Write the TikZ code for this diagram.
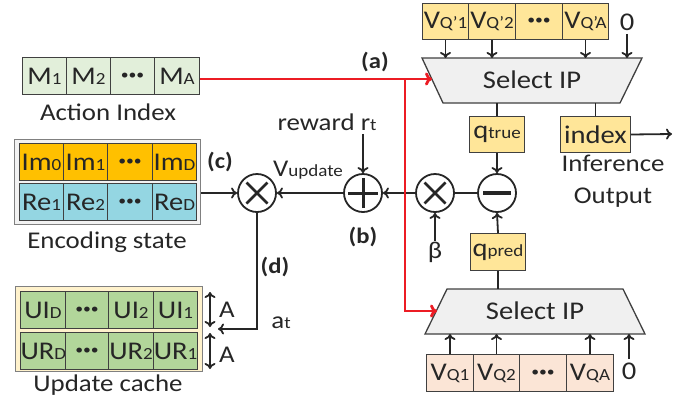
\documentclass[tikz,border=0pt]{standalone}
\usepackage{fontspec}
\setmainfont{Carlito}[FakeStretch=1.12]
\usetikzlibrary{arrows.meta}
\definecolor{txt}{HTML}{262626}
\definecolor{bd}{HTML}{404040}
\definecolor{gAct}{HTML}{E2EFDA}
\definecolor{gIm}{HTML}{FFC000}
\definecolor{gRe}{HTML}{94D6E2}
\definecolor{gEnc}{HTML}{F2F2F2}
\definecolor{gUpd}{HTML}{FFF2CC}
\definecolor{gU}{HTML}{B2D69A}
\definecolor{gY}{HTML}{FFE699}
\definecolor{gP}{HTML}{FBE5D6}
\definecolor{gT}{HTML}{F0F0F0}
\definecolor{rd}{HTML}{EC1C24}
\newcommand{\sbx}[1]{{\fontsize{17}{17}\selectfont #1}}
\newcommand{\dts}{{\fontsize{14}{14}\selectfont •••}}
\begin{document}
\begin{tikzpicture}[x=1pt,y=-1pt,
  every node/.style={text=txt, font=\fontsize{24}{28}\selectfont},
  cell/.style={draw=bd, line width=1pt, inner sep=0pt, anchor=north west, minimum height=37pt, font=\fontsize{25.5}{28}\selectfont},
  outer/.style={draw=gray, line width=1.2pt, inner sep=0pt, anchor=north west},
  ln/.style={draw=txt, line width=1.8pt},
  arr/.style={ln, -{To[length=6pt,width=11pt]}},
  darr/.style={ln, {To[length=6pt,width=11pt]}-{To[length=6pt,width=11pt]}},
  rdarr/.style={draw=rd, line width=2.8pt, -{To[length=7pt,width=13pt]}},
  circ/.style={draw=txt, line width=1.8pt, circle, minimum size=38pt, inner sep=0pt, fill=white},
  trap/.style={draw=bd, line width=1.3pt, fill=gT},
  lab/.style={font=\bfseries\fontsize{22}{26}\selectfont}]
\useasboundingbox (0,0) rectangle (700,402);

% Action index
\node[cell, fill=gAct, minimum width=44pt] (m1) at (22,57) {M\sbx{1}};
\node[cell, fill=gAct, minimum width=44pt] (m2) at (66,57) {M\sbx{2}};
\node[cell, fill=gAct, minimum width=44pt] (mdots) at (110,57) {\dts};
\node[cell, fill=gAct, minimum width=45pt] (ma) at (154,57) {M\sbx{A}};
\node (actlbl) at (108,112) {Action Index};

% Encoding state
\node[outer, fill=gEnc, minimum width=186pt, minimum height=85pt] (enc) at (14,139) {};
\node[cell, fill=gIm, minimum width=44pt] (im0) at (19,143) {Im\sbx{0}};
\node[cell, fill=gIm, minimum width=44pt] (im1) at (63,143) {Im\sbx{1}};
\node[cell, fill=gIm, minimum width=45pt] (imdots) at (107,143) {\dts};
\node[cell, fill=gIm, minimum width=44pt] (imd) at (152,143) {Im\sbx{D}};
\node[cell, fill=gRe, minimum width=44pt] (re1) at (19,183) {Re\sbx{1}};
\node[cell, fill=gRe, minimum width=44pt] (re2) at (63,183) {Re\sbx{2}};
\node[cell, fill=gRe, minimum width=45pt] (redots) at (107,183) {\dts};
\node[cell, fill=gRe, minimum width=44pt] (red) at (152,183) {Re\sbx{D}};
\node (enclbl) at (107,242) {Encoding state};

% Update cache
\node[outer, fill=gUpd, minimum width=187pt, minimum height=85pt] (upd) at (15,286) {};
\node[cell, fill=gU, minimum width=45pt] (uid) at (20,291) {UI\sbx{D}};
\node[cell, fill=gU, minimum width=43pt] (uidots) at (65,291) {\dts};
\node[cell, fill=gU, minimum width=45pt] (ui2) at (108,291) {UI\sbx{2}};
\node[cell, fill=gU, minimum width=44pt] (ui1) at (153,291) {UI\sbx{1}};
\node[cell, fill=gU, minimum width=45pt] (urd) at (20,332) {UR\sbx{D}};
\node[cell, fill=gU, minimum width=43pt] (urdots) at (65,332) {\dts};
\node[cell, fill=gU, minimum width=45pt] (ur2) at (108,332) {UR\sbx{2}};
\node[cell, fill=gU, minimum width=44pt] (ur1) at (153,332) {UR\sbx{1}};
\node (updlbl) at (108,385) {Update cache};
\coordinate (a1t) at (210,292);
\coordinate (a1b) at (210,327);
\coordinate (a2t) at (210,333);
\coordinate (a2b) at (210,369);
\draw[darr] (a1t) -- (a1b);
\draw[darr] (a2t) -- (a2b);
\node (alab1) at (227,310) {A};
\node (alab2) at (227,355) {A};

% Upper select
\node[cell, fill=gY, minimum width=46pt, minimum height=36pt] (vqa1) at (422,3) {V\sbx{Q’1}};
\node[cell, fill=gY, minimum width=47pt, minimum height=36pt] (vqa2) at (468,3) {V\sbx{Q’2}};
\node[cell, fill=gY, minimum width=47pt, minimum height=36pt] (vqadots) at (515,3) {\dts};
\node[cell, fill=gY, minimum width=46pt, minimum height=36pt] (vqaA) at (562,3) {V\sbx{Q’A}};
\node[font=\fontsize{25.5}{28}\selectfont] (zero1) at (627,22) {0};
\path[trap] (422,58) -- (642,58) -- (620,103) -- (443,103) -- cycle;
\node[font=\fontsize{25.5}{28}\selectfont] (sel1) at (532,80) {Select IP};
\coordinate (t1) at (0,58);
\coordinate (b1) at (0,103);
\coordinate (sel1w) at (432,79);
\draw[arr] (vqa1.south) -- (vqa1.south |- t1);
\draw[arr] (vqa2.south) -- (vqa2.south |- t1);
\draw[arr] (vqaA.south) -- (vqaA.south |- t1);
\draw[arr] (zero1.south) -- (zero1.south |- t1);

% Lower select
\path[trap] (447,289) -- (623,289) -- (645,334) -- (425,334) -- cycle;
\node[font=\fontsize{25.5}{28}\selectfont] (sel2) at (535,311) {Select IP};
\coordinate (t2) at (0,289);
\coordinate (b2) at (0,334);
\coordinate (sel2w) at (437,311);
\node[cell, fill=gP, minimum width=47pt] (vq1) at (426,354) {V\sbx{Q1}};
\node[cell, fill=gP, minimum width=46pt] (vq2) at (473,354) {V\sbx{Q2}};
\node[cell, fill=gP, minimum width=47pt] (vqdots) at (519,354) {\dts};
\node[cell, fill=gP, minimum width=47pt] (vqA) at (566,354) {V\sbx{QA}};
\node[font=\fontsize{25.5}{28}\selectfont] (zero2) at (629,371) {0};
\draw[arr] (vq1.north) -- (vq1.north |- b2);
\draw[arr] (vq2.north) -- (vq2.north |- b2);
\draw[arr] (vqA.north) -- (vqA.north |- b2);
\draw[arr] (zero2.north) -- (zero2.north |- b2);

% q boxes
\node[cell, fill=gY, minimum width=55pt, minimum height=36pt] (qtrue) at (469,116) {q\sbx{true}};
\node[cell, fill=gY, minimum width=70pt, minimum height=36pt] (index) at (560,116) {index};
\node[cell, fill=gY, minimum width=55pt] (qpred) at (470,233) {q\sbx{pred}};
\draw[ln] (qtrue.north) -- (qtrue.north |- b1);
\draw[ln] (index.north) -- (index.north |- b1);
\coordinate (infout) at (672,134);
\draw[arr] (index.east) -- (infout);
\node[align=center, font=\fontsize{24}{32}\selectfont] (inf) at (613,181) {Inference\\Output};

% circles
\node[circ] (minus) at (497,193) {};
\draw[draw=txt, line width=4.5pt] ([xshift=-14pt]minus.center) -- ([xshift=14pt]minus.center);
\node[circ] (mulb) at (435,193) {};
\node[circ] (plus) at (363,193) {};
\draw[draw=txt, line width=3pt] ([xshift=-15pt]plus.center) -- ([xshift=15pt]plus.center);
\draw[draw=txt, line width=3pt] ([yshift=-15pt]plus.center) -- ([yshift=15pt]plus.center);
\node[circ] (mulc) at (257,193) {};
\foreach \c in {mulb,mulc}{
  \draw[draw=txt, line width=2.8pt] ([shift={(-10.5,-10.5)}]\c.center) -- ([shift={(10.5,10.5)}]\c.center);
  \draw[draw=txt, line width=2.8pt] ([shift={(-10.5,10.5)}]\c.center) -- ([shift={(10.5,-10.5)}]\c.center);
}

\draw[arr] (qtrue.south) -- (minus.north);
\draw[arr] (qpred.north) -- (minus.south);
\draw[ln] (qpred.south) -- (qpred.south |- t2);
\draw[ln] (minus.west) -- (mulb.east);
\draw[arr] (mulb.west) -- (plus.east);
\node[inner sep=1pt] (beta) at (435,252) {β};
\draw[arr] (beta.north) -- (mulb.south);
\node (rew) at (327,122) {reward r\sbx{t}};
\draw[arr] (plus.north |- rew.south) -- (plus.north);
\draw[arr] (plus.west) -- (mulc.east);
\node (vupd) at (308,170) {V\sbx{update}};
\draw[arr] (mulc.west -| enc.east) -- (mulc.west);
\coordinate (dend) at (218,329);
\draw[arr] (mulc.south) |- (dend);
\node (at) at (281,323) {a\sbx{t}};

% labels
\node[lab] (la) at (375,62) {(a)};
\node[lab] (lb) at (363,237) {(b)};
\node[lab] (lc) at (220,162) {(c)};
\node[lab] (ld) at (275,267) {(d)};

% red paths
\coordinate (rj) at (405,79);
\draw[rdarr] (ma.east |- sel1w) -- (sel1w);
\draw[rdarr] (rj) |- (sel2w);
\end{tikzpicture}
\end{document}
